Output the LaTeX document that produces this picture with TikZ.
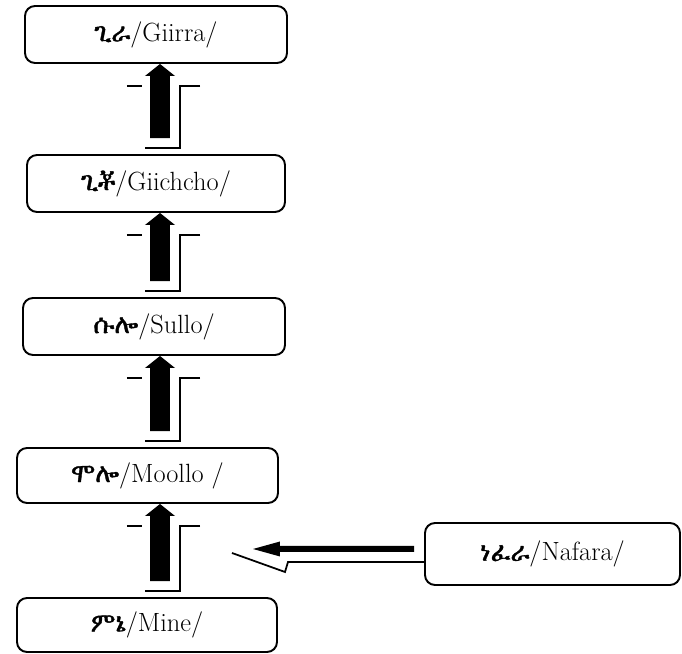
\documentclass[tikz,border=0pt]{standalone}
\usepackage{fontspec}
\IfFontExistsTF{FreeSerif}
  {\newfontfamily\ethfont[FakeBold=1.5]{FreeSerif}}
  {\IfFontExistsTF{Abyssinica SIL}
    {\newfontfamily\ethfont[FakeBold=1.5]{Abyssinica SIL}}
    {\newfontfamily\ethfont{DejaVu Sans}}}
\usetikzlibrary{calc}

\begin{document}
\begin{tikzpicture}[
    box/.style={draw, line width=1.1pt, rounded corners=0.2cm, minimum height=1.14cm,
      inner sep=0pt, font=\fontsize{15}{18}\selectfont},
    shadowline/.style={line width=1pt}]
  \useasboundingbox (0,0) rectangle (13.64,13.08);

  % Word boxes
  \node[box, minimum width=5.24cm] (giirra) at (3.12,12.39) {{\ethfont ጊራ}/Giirra/};
  \node[box, minimum width=5.16cm] (giichcho) at (3.12,9.41) {{\ethfont ጊቾ}/Giichcho/};
  \node[box, minimum width=5.24cm] (sullo) at (3.08,6.55) {{\ethfont ሱሎ}/Sullo/};
  \node[box, minimum width=5.22cm, minimum height=1.1cm] (moollo) at (2.95,3.57) {{\ethfont ሞሎ}/Moollo /};
  \node[box, minimum width=5.2cm, minimum height=1.08cm] (mine) at (2.94,0.58) {{\ethfont ምኔ}/Mine/};
  \node[box, minimum width=5.1cm, minimum height=1.24cm] (nafara) at (11.05,2.0) {{\ethfont ነፈራ}/Nafara/};

  % Common line of the upward arrows
  \coordinate (spine) at (3.2,0);

  % Mine -> Moollo
  \coordinate (tip1) at (spine |- moollo.south);
  \coordinate (tail1) at ($(spine |- mine.north)+(0,0.32)$);
  \fill (tip1) -- ++(-0.3,-0.24) -- ++(0.1,0) -- ([xshift=-0.2cm]tail1) -- ([xshift=0.2cm]tail1)
    -- ([shift={(0.2,-0.24)}]tip1) -- ([shift={(0.3,-0.24)}]tip1) -- cycle;
  \draw[shadowline] ([shift={(-0.66,-0.44)}]tip1) -- ++(0.3,0);
  \draw[shadowline] ([shift={(0.8,-0.44)}]tip1) -- ++(-0.4,0) |- ([shift={(-0.3,-0.2)}]tail1);

  % Moollo -> Sullo
  \coordinate (tip2) at (spine |- sullo.south);
  \coordinate (tail2) at ($(spine |- moollo.north)+(0,0.32)$);
  \fill (tip2) -- ++(-0.3,-0.24) -- ++(0.1,0) -- ([xshift=-0.2cm]tail2) -- ([xshift=0.2cm]tail2)
    -- ([shift={(0.2,-0.24)}]tip2) -- ([shift={(0.3,-0.24)}]tip2) -- cycle;
  \draw[shadowline] ([shift={(-0.66,-0.44)}]tip2) -- ++(0.3,0);
  \draw[shadowline] ([shift={(0.8,-0.44)}]tip2) -- ++(-0.4,0) |- ([shift={(-0.3,-0.2)}]tail2);

  % Sullo -> Giichcho
  \coordinate (tip3) at (spine |- giichcho.south);
  \coordinate (tail3) at ($(spine |- sullo.north)+(0,0.32)$);
  \fill (tip3) -- ++(-0.3,-0.24) -- ++(0.1,0) -- ([xshift=-0.2cm]tail3) -- ([xshift=0.2cm]tail3)
    -- ([shift={(0.2,-0.24)}]tip3) -- ([shift={(0.3,-0.24)}]tip3) -- cycle;
  \draw[shadowline] ([shift={(-0.66,-0.44)}]tip3) -- ++(0.3,0);
  \draw[shadowline] ([shift={(0.8,-0.44)}]tip3) -- ++(-0.4,0) |- ([shift={(-0.3,-0.2)}]tail3);

  % Giichcho -> Giirra
  \coordinate (tip4) at (spine |- giirra.south);
  \coordinate (tail4) at ($(spine |- giichcho.north)+(0,0.32)$);
  \fill (tip4) -- ++(-0.3,-0.24) -- ++(0.1,0) -- ([xshift=-0.2cm]tail4) -- ([xshift=0.2cm]tail4)
    -- ([shift={(0.2,-0.24)}]tip4) -- ([shift={(0.3,-0.24)}]tip4) -- cycle;
  \draw[shadowline] ([shift={(-0.66,-0.44)}]tip4) -- ++(0.3,0);
  \draw[shadowline] ([shift={(0.8,-0.44)}]tip4) -- ++(-0.4,0) |- ([shift={(-0.3,-0.2)}]tail4);

  % Nafara -> between Mine and Moollo
  \coordinate (ntip) at (5.06,2.1);
  \coordinate (ntail) at ($(nafara.west)+(-0.2,0.1)$);
  \fill (ntip) -- ++(0.54,0.15) -- ++(0,-0.09) -- ([yshift=0.06cm]ntail) -- ([yshift=-0.06cm]ntail)
    -- ([shift={(0.54,-0.06)}]ntip) -- ([shift={(0.54,-0.15)}]ntip) -- cycle;
  \draw[shadowline] ([shift={(-0.42,-0.08)}]ntip) -- ([shift={(0.64,-0.46)}]ntip)
    -- ([shift={(0.7,-0.26)}]ntip) -- ($(nafara.west)+(0,-0.16)$);
\end{tikzpicture}
\end{document}
